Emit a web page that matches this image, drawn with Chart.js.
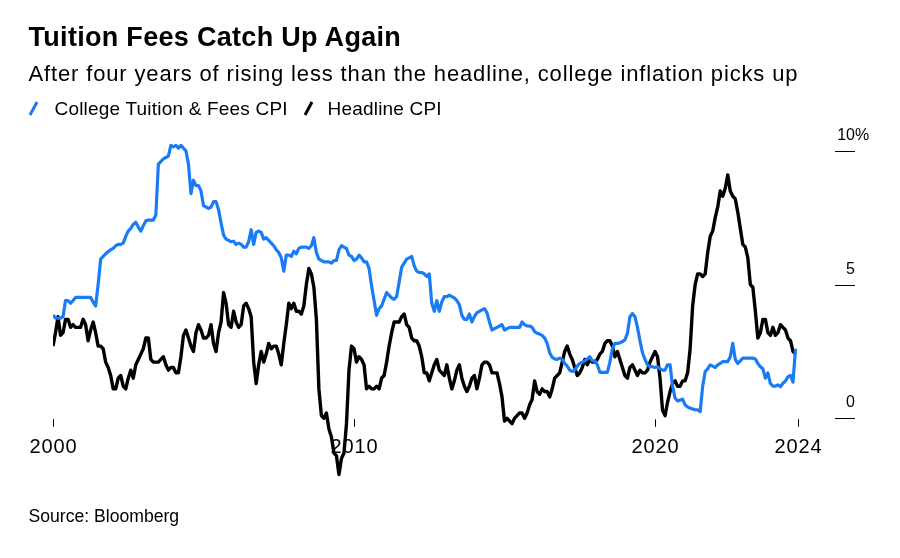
<!DOCTYPE html>
<html><head><meta charset="utf-8">
<script src="https://cdn.jsdelivr.net/npm/chart.js@4.4.1/dist/chart.umd.min.js"></script>
<style>
html,body{margin:0;padding:0;background:#fff;}
#wrap{position:relative;width:900px;height:558px;overflow:hidden;font-family:"Liberation Sans",Arial,Helvetica,sans-serif;color:#000;}
canvas{position:absolute;left:0;top:0;}
.t{position:absolute;white-space:nowrap;line-height:1;}
.lg{position:absolute;white-space:nowrap;line-height:1;font-size:19px;letter-spacing:0.2px;}
</style></head><body>
<div id="wrap">
<canvas id="c" width="900" height="558"></canvas>
<div class="t" style="left:28.5px;top:23.6px;font-size:27px;font-weight:bold;letter-spacing:0.3px;">Tuition Fees Catch Up Again</div>
<div class="t" style="left:28.5px;top:63.4px;font-size:22px;letter-spacing:0.85px;">After four years of rising less than the headline, college inflation picks up</div>
<div id="legend"></div>
<div class="t" style="left:28.5px;top:508.4px;font-size:17.6px;">Source: Bloomberg</div>
</div>
<script>
// Monthly year-over-year % change, Jan 2000 .. Sep 2024
const seriesNames = ['College Tuition & Fees CPI', 'Headline CPI'];
const seriesColors = ['#1a7cf4', '#000000'];

const tuition = [
 3.86,3.75,3.74,3.74,3.8,4.4,4.4,4.3,4.4,4.52,4.52,4.52,
 4.52,4.52,4.52,4.52,4.35,4.2,5.0,5.95,6.05,6.15,6.23,6.3,
 6.35,6.45,6.5,6.5,6.55,6.8,7.0,7.1,7.25,7.33,7.15,7.0,
 7.2,7.38,7.41,7.41,7.41,7.6,9.5,9.6,9.7,9.75,9.8,10.2,
 10.15,10.2,10.1,10.2,10.1,10.0,9.5,8.4,8.9,8.7,8.7,8.5,
 7.95,7.9,7.85,7.9,8.1,8.1,7.8,7.3,6.85,6.7,6.65,6.6,
 6.62,6.5,6.55,6.5,6.4,6.4,6.6,7.05,6.5,6.95,7.0,6.95,
 6.7,6.75,6.65,6.55,6.45,6.3,6.2,6.0,5.5,6.1,6.1,6.05,
 6.25,6.15,6.35,6.4,6.4,6.4,6.35,6.45,6.75,6.2,5.95,5.9,
 5.85,5.85,5.85,5.8,5.9,5.9,6.3,6.45,6.4,6.35,6.1,6.05,
 5.9,5.95,6.1,6.0,5.85,5.85,5.6,4.95,4.4,3.85,4.1,4.2,
 4.45,4.7,4.6,4.5,4.45,4.55,5.1,5.65,5.8,5.95,6.0,6.05,
 5.7,5.5,5.45,5.45,5.4,5.3,5.4,4.3,4.0,4.4,4.0,4.35,
 4.55,4.55,4.6,4.55,4.5,4.4,4.25,3.85,3.7,3.7,3.9,3.6,
 3.8,3.95,4.0,4.05,4.1,3.95,3.6,3.3,3.35,3.4,3.45,3.5,
 3.3,3.35,3.4,3.4,3.4,3.4,3.4,3.6,3.5,3.45,3.45,3.4,
 3.24,3.18,3.15,3.1,3.0,2.8,2.45,2.28,2.22,2.2,2.25,2.2,
 2.05,1.95,1.8,1.75,1.8,1.95,2.05,2.1,2.15,2.22,2.3,2.15,
 2.15,2.0,1.72,1.72,1.72,1.72,2.1,2.6,2.8,2.8,2.82,2.87,
 2.93,3.18,3.8,3.92,3.8,3.4,2.9,2.45,2.2,2.0,1.93,1.93,
 1.9,1.93,1.85,1.8,1.8,2.0,2.0,1.2,0.75,0.65,0.68,0.72,
 0.5,0.42,0.38,0.35,0.32,0.32,0.25,1.2,1.75,1.85,2.0,1.95,
 1.9,2.0,2.05,2.12,2.12,2.12,2.3,2.8,2.2,2.05,2.15,2.25,
 2.25,2.25,2.25,2.25,2.22,2.05,1.93,1.85,1.5,1.7,1.3,1.2,
 1.2,1.25,1.18,1.31,1.4,1.55,1.6,1.35,2.6
];

const headline = [
 2.7,3.2,3.8,3.1,3.2,3.7,3.7,3.4,3.5,3.4,3.4,3.4,
 3.7,3.5,2.9,3.3,3.6,3.2,2.7,2.7,2.6,2.1,1.9,1.6,
 1.1,1.1,1.5,1.6,1.2,1.1,1.5,1.8,1.5,2.0,2.2,2.4,
 2.6,3.0,3.0,2.2,2.1,2.1,2.1,2.2,2.3,2.0,1.8,1.9,
 1.9,1.7,1.7,2.3,3.1,3.3,3.0,2.7,2.5,3.2,3.5,3.3,
 3.0,3.0,3.1,3.5,2.8,2.5,3.2,3.6,4.7,4.3,3.5,3.4,
 4.0,3.6,3.4,3.5,4.2,4.3,4.1,3.8,2.1,1.3,2.0,2.5,
 2.1,2.4,2.8,2.6,2.7,2.7,2.4,2.0,2.8,3.5,4.3,4.1,
 4.3,4.0,4.0,3.9,4.2,5.0,5.6,5.4,4.9,3.7,1.1,0.1,
 0.0,0.2,-0.4,-0.7,-1.3,-1.4,-2.1,-1.5,-1.3,-0.2,1.8,2.7,
 2.6,2.1,2.3,2.2,2.0,1.1,1.2,1.1,1.1,1.2,1.1,1.5,
 1.6,2.1,2.7,3.2,3.6,3.6,3.6,3.8,3.9,3.5,3.4,3.0,
 2.9,2.9,2.7,2.3,1.7,1.7,1.4,1.7,2.0,2.2,1.8,1.7,
 1.6,2.0,1.5,1.1,1.4,1.8,2.0,1.5,1.2,1.0,1.2,1.5,
 1.6,1.1,1.5,2.0,2.1,2.1,2.0,1.7,1.7,1.7,1.3,0.8,
 -0.1,0.0,-0.1,-0.2,0.0,0.1,0.2,0.2,0.0,0.2,0.5,0.7,
 1.4,1.0,0.9,1.1,1.0,1.0,0.8,1.1,1.5,1.6,1.7,2.1,
 2.5,2.7,2.4,2.2,1.9,1.6,1.7,1.9,2.2,2.0,2.2,2.1,
 2.1,2.2,2.4,2.5,2.8,2.9,2.9,2.7,2.3,2.5,2.2,1.9,
 1.6,1.5,1.9,2.0,1.8,1.6,1.8,1.7,1.7,1.8,2.1,2.3,
 2.5,2.3,1.5,0.3,0.1,0.6,1.0,1.3,1.4,1.2,1.2,1.4,
 1.4,1.7,2.6,4.2,5.0,5.4,5.4,5.3,5.4,6.2,6.8,7.0,
 7.5,7.9,8.5,8.3,8.6,9.1,8.5,8.3,8.2,7.7,7.1,6.5,
 6.4,6.0,5.0,4.9,4.0,3.0,3.2,3.7,3.7,3.2,3.1,3.4,
 3.1,3.2,3.5,3.4,3.3,3.0,2.9,2.5,2.4
];

// x axis: month index from Jan 2000
const xTickLabels = ['2000', '2010', '2020', '2024'];
const xTickIndex = [0, 120, 240, 297];
const yTickValues = [0, 5, 10];
const yTickLabels = ['0', '5', '10'];
const yTickSuffix = '%';

const FONT = '"Liberation Sans", Arial, Helvetica, sans-serif';

const axesPlugin = {
  id: 'bbgAxes',
  beforeDatasetsDraw(chart) {
    const ctx = chart.ctx, xs = chart.scales.x, ys = chart.scales.y, ca = chart.chartArea;
    ctx.save();
    const y0 = ys.getPixelForValue(0);
    ctx.strokeStyle = '#000'; ctx.lineWidth = 1; ctx.fillStyle = '#000';
    ctx.font = '20px ' + FONT; ctx.textAlign = 'center'; ctx.textBaseline = 'alphabetic';
    try { ctx.letterSpacing = '0.9px'; } catch (e) {}
    xTickIndex.forEach((v, k) => {
      const px = Math.round(xs.getPixelForValue(v)) + 0.5;
      ctx.beginPath(); ctx.moveTo(px, y0 + 1); ctx.lineTo(px, y0 + 8.5); ctx.stroke();
      ctx.fillText(xTickLabels[k], px, y0 + 35);
    });
    try { ctx.letterSpacing = '0px'; } catch (e) {}
    ctx.font = '16px ' + FONT;
    yTickValues.forEach((v, k) => {
      const py = Math.round(ys.getPixelForValue(v)) + 0.5;
      const x1 = ca.right + 37, x2 = ca.right + 57;
      ctx.beginPath(); ctx.moveTo(x1, py); ctx.lineTo(x2, py); ctx.stroke();
      ctx.textAlign = 'right';
      ctx.fillText(yTickLabels[k], x2, py - 12);
      if (k === yTickValues.length - 1) { ctx.textAlign = 'left'; ctx.fillText(yTickSuffix, x2, py - 12); }
    });
    ctx.restore();
  }
};

const toPts = arr => arr.map((v, i) => ({ x: i, y: v }));

const chart = new Chart(document.getElementById('c'), {
  type: 'line',
  data: {
    datasets: [
      { label: seriesNames[0], data: toPts(tuition), borderColor: seriesColors[0], borderWidth: 3.2, pointRadius: 0, tension: 0, borderJoinStyle: 'round', order: 1 },
      { label: seriesNames[1], data: toPts(headline), borderColor: seriesColors[1], borderWidth: 3.4, pointRadius: 0, tension: 0, borderJoinStyle: 'round', order: 2 }
    ]
  },
  options: {
    responsive: false, animation: false, devicePixelRatio: 1,
    layout: { padding: { left: 53, right: 102, top: 140.1, bottom: 70.15 } },
    scales: {
      x: { type: 'linear', min: 0, max: 297, display: false },
      y: { type: 'linear', min: -2.6, max: 10.4, display: false }
    },
    plugins: { legend: { display: false }, tooltip: { enabled: false } }
  },
  plugins: [axesPlugin]
});

// HTML legend built from the datasets
const lg = document.getElementById('legend');
const lgPos = [{ sw: 28, tx: 54.5 }, { sw: 302.5, tx: 327.5 }];
chart.data.datasets.forEach((ds, k) => {
  const s = document.createElementNS('http://www.w3.org/2000/svg', 'svg');
  s.setAttribute('width', '12'); s.setAttribute('height', '18');
  s.style.position = 'absolute'; s.style.left = lgPos[k].sw + 'px'; s.style.top = '99px';
  s.innerHTML = '<line x1="2" y1="16" x2="9" y2="3" stroke="' + ds.borderColor + '" stroke-width="3"/>';
  lg.appendChild(s);
  const d = document.createElement('div');
  d.className = 'lg'; d.style.left = lgPos[k].tx + 'px'; d.style.top = '98.9px';
  d.textContent = ds.label;
  lg.appendChild(d);
});
</script>
</body></html>
